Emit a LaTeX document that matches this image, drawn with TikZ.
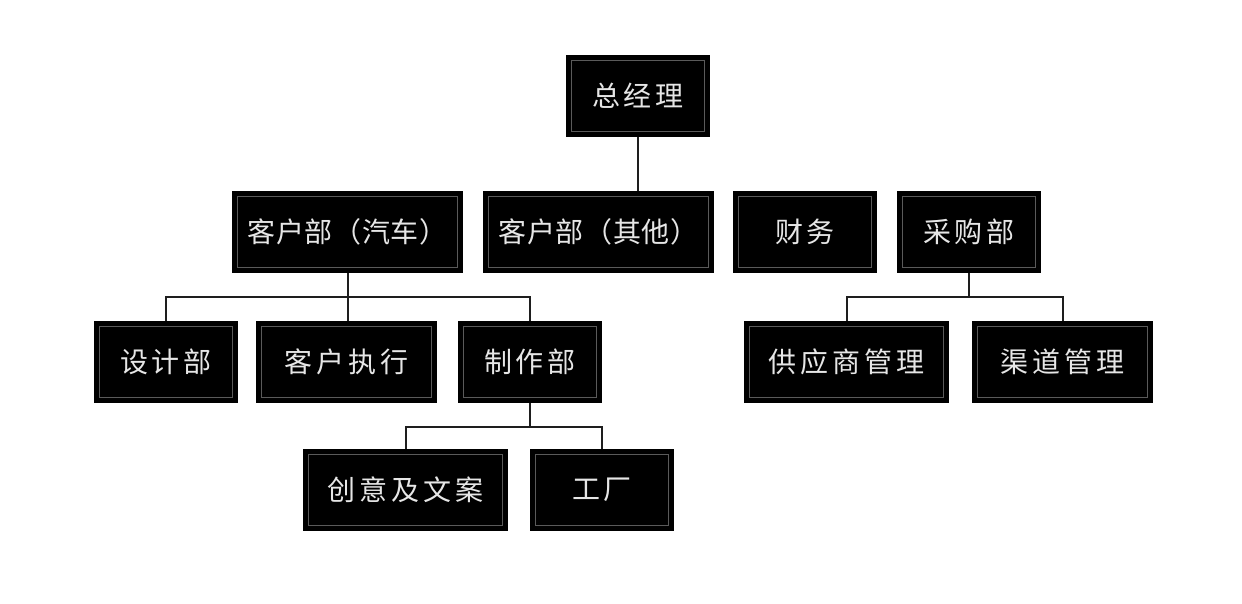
\documentclass[tikz,border=0pt]{standalone}
\usepackage{fontspec}
\newfontfamily\cjk[LetterSpace=14]{Noto Sans CJK SC}
\newfontfamily\cjktight[LetterSpace=2]{Noto Sans CJK SC}
\usetikzlibrary{positioning}
\definecolor{framegray}{HTML}{5A5A5A}
\definecolor{textgray}{HTML}{E6E6E6}
\definecolor{linegray}{HTML}{1E1E1E}

\begin{document}
\begin{tikzpicture}[x=0.5pt,y=-0.5pt,
    unit/.style={fill=black,text=textgray,font=\cjk\fontsize{14}{16}\selectfont,
        minimum height=41pt,inner sep=0pt,
        path picture={\draw[framegray,line width=0.5pt]
            ([shift={(2.75pt,-2.75pt)}]path picture bounding box.north west) rectangle
            ([shift={(-2.75pt,2.75pt)}]path picture bounding box.south east);}},
    wideunit/.style={unit,font=\cjktight\fontsize{14}{16}\selectfont,minimum width=115.5pt},
    link/.style={draw=linegray,line width=1pt}]
    \useasboundingbox (0,0) rectangle (1242,604);
    \node[unit,minimum width=72pt] (gm) at (638,96) {总经理};
    \node[wideunit] (carA) at (347.5,232) {客户部（汽车）};
    \node[wideunit] (carB) at (598.5,232) {客户部（其他）};
    \node[unit,minimum width=72pt] (fin) at (805,232) {财务};
    \node[unit,minimum width=72pt] (pur) at (969,232) {采购部};
    \node[unit,minimum width=72pt] (des) at (166,362) {设计部};
    \node[unit,minimum width=90.5pt] (exe) at (346.5,362) {客户执行};
    \node[unit,minimum width=72pt] (prod) at (530,362) {制作部};
    \node[unit,minimum width=102.5pt] (sup) at (846.5,362) {供应商管理};
    \node[unit,minimum width=90.5pt] (chan) at (1062.5,362) {渠道管理};
    \node[unit,minimum width=102.5pt] (cre) at (405.5,490) {创意及文案};
    \node[unit,minimum width=72pt] (fac) at (602,490) {工厂};
    \draw[link] (gm.south) -- (gm.south |- carB.north);
    \draw[link] (carA.south) -- ++(0,24) coordinate (busA);
    \draw[link] (des.north) |- (busA) -| (prod.north);
    \draw[link] (busA) -- (busA |- exe.north);
    \draw[link] (prod.south) -- ++(0,24) coordinate (busC);
    \draw[link] (cre.north) |- (busC) -| (fac.north);
    \draw[link] (pur.south) -- ++(0,24) coordinate (busD);
    \draw[link] (sup.north) |- (busD) -| (chan.north);
\end{tikzpicture}
\end{document}
